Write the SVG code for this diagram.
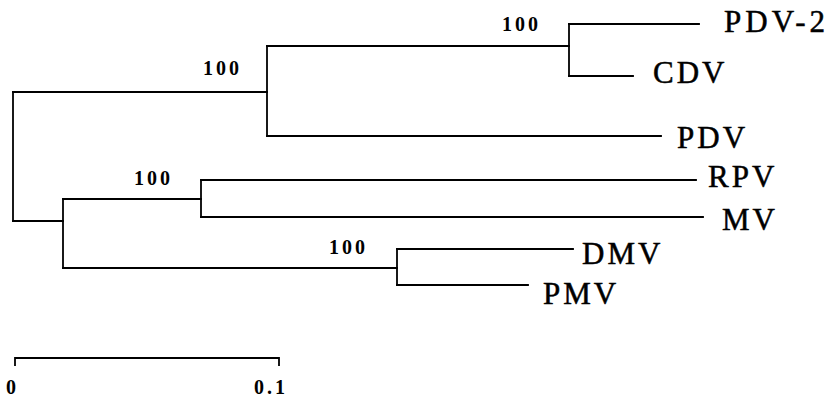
<svg xmlns="http://www.w3.org/2000/svg" width="834" height="399" viewBox="0 0 834 399">
<style>
.br{fill:none;stroke:#000;stroke-width:1.8;stroke-linecap:square}
.tx{font-family:"Liberation Serif","Times New Roman",serif;font-size:31px;letter-spacing:3px;fill:#000;stroke:#000;stroke-width:0.5}
.bs{font-family:"Liberation Serif","Times New Roman",serif;font-size:20px;font-weight:bold;letter-spacing:3px;fill:#000}
.sc{font-family:"Liberation Serif","Times New Roman",serif;font-size:20px;font-weight:bold;letter-spacing:3px;fill:#000}
</style>
<rect width="834" height="399" fill="#fff"/>
<g id="connectors" class="br">
<path d="M13,92 V221"/>
<path d="M13,92 H267"/>
<path d="M267,46 V136"/>
<path d="M267,46 H569"/>
<path d="M569,24 V76"/>
<path d="M569,24 H699"/>
<path d="M569,76 H633"/>
<path d="M267,136 H661"/>
<path d="M13,221 H63"/>
<path d="M63,199 V268"/>
<path d="M63,199 H201"/>
<path d="M201,180 V217"/>
<path d="M201,180 H696"/>
<path d="M201,217 H703"/>
<path d="M63,268 H397"/>
<path d="M397,249 V285"/>
<path d="M397,249 H573"/>
<path d="M397,285 H528"/>
</g>
<g id="node-PDV-2"><text class="tx" x="724" y="32" style="letter-spacing:4px">PDV-2</text></g>
<g id="node-CDV"><text class="tx" x="653" y="83">CDV</text></g>
<g id="node-PDV"><text class="tx" x="677" y="148">PDV</text></g>
<g id="node-RPV"><text class="tx" x="708" y="187">RPV</text></g>
<g id="node-MV"><text class="tx" x="722" y="230">MV</text></g>
<g id="node-DMV"><text class="tx" x="582" y="264">DMV</text></g>
<g id="node-PMV"><text class="tx" x="543" y="304">PMV</text></g>
<g id="bootstrap">
<text class="bs" x="502" y="31">100</text>
<text class="bs" x="203" y="75">100</text>
<text class="bs" x="134" y="185">100</text>
<text class="bs" x="329" y="254">100</text>
</g>
<g id="scale-bar">
<path class="br" d="M15,365 V358 H279 V365"/>
<text class="sc" x="6" y="394">0</text>
<text class="sc" x="254" y="394">0.1</text>
</g>
</svg>
